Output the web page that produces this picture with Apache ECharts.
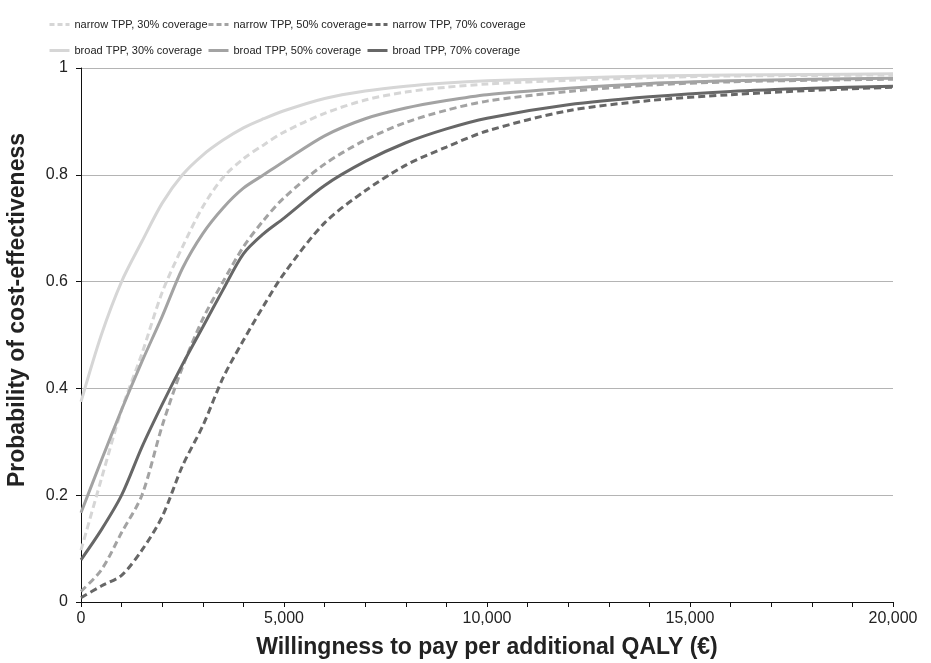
<!DOCTYPE html>
<html>
<head>
<meta charset="utf-8">
<script src="https://cdn.jsdelivr.net/npm/echarts@6/dist/echarts.min.js"></script>
<style>
  html, body { margin: 0; padding: 0; background: #fff; }
  #chart { width: 931px; height: 663px; }
</style>
</head>
<body>
<div id="chart"></div>
<script>
// willingness to pay (€) at which each curve was read
const wtp = [0, 500, 1000, 1500, 2000, 2500, 3000, 3500, 4000, 4500, 5000,
  6000, 7000, 8000, 9000, 10000, 12000, 14000, 16000, 18000, 20000]

const narrow30 = [0.097, 0.23, 0.36, 0.465, 0.58, 0.665, 0.74, 0.795, 0.83, 0.856, 0.88,
  0.915, 0.94, 0.955, 0.964, 0.97, 0.977, 0.982, 0.985, 0.986, 0.987]
const narrow50 = [0.02, 0.06, 0.13, 0.2, 0.33, 0.44, 0.53, 0.6, 0.665, 0.715, 0.757,
  0.82, 0.865, 0.898, 0.921, 0.938, 0.956, 0.968, 0.974, 0.977, 0.979]
const narrow70 = [0.008, 0.03, 0.05, 0.097, 0.16, 0.255, 0.33, 0.42, 0.49, 0.555, 0.615,
  0.71, 0.77, 0.818, 0.852, 0.882, 0.92, 0.939, 0.95, 0.958, 0.964]
const broad30 = [0.375, 0.5, 0.6, 0.675, 0.747, 0.8, 0.837, 0.865, 0.888, 0.905, 0.92,
  0.943, 0.957, 0.966, 0.972, 0.976, 0.981, 0.985, 0.987, 0.988, 0.989]
const broad50 = [0.167, 0.265, 0.36, 0.45, 0.535, 0.625, 0.69, 0.738, 0.775, 0.8, 0.825,
  0.873, 0.905, 0.925, 0.939, 0.95, 0.962, 0.971, 0.976, 0.979, 0.981]
const broad70 = [0.079, 0.135, 0.2, 0.29, 0.37, 0.445, 0.515, 0.585, 0.652, 0.69, 0.719,
  0.78, 0.825, 0.86, 0.886, 0.906, 0.931, 0.946, 0.956, 0.962, 0.966]

const seriesNames = [
  'narrow TPP, 30% coverage', 'narrow TPP, 50% coverage', 'narrow TPP, 70% coverage',
  'broad TPP, 30% coverage', 'broad TPP, 50% coverage', 'broad TPP, 70% coverage'
]
const yTicks = ['0', '0.2', '0.4', '0.6', '0.8', '1']

const font = 'Liberation Sans, Arial, Helvetica, sans-serif'
const light = '#d6d6d6'
const mid = '#a3a3a3'
const dark = '#676767'

function pairs(vals) {
  return wtp.map((x, i) => [x, vals[i]])
}

function makeSeries(name, vals, color, dashed) {
  return {
    name: name,
    type: 'line',
    data: pairs(vals),
    symbol: 'none',
    smooth: 0.3,
    lineStyle: {
      width: 3,
      color: color,
      type: dashed ? [7, 4] : 'solid'
    },
    itemStyle: { color: color }
  }
}

// one legend per entry so the three columns line up like the original
const legendPos = [
  { left: 43, top: 14 }, { left: 202, top: 14 }, { left: 361, top: 14 },
  { left: 43, top: 40 }, { left: 202, top: 40 }, { left: 361, top: 40 }
]
const legends = seriesNames.map((n, i) => ({
  data: [n],
  left: legendPos[i].left,
  top: legendPos[i].top,
  itemWidth: 20,
  itemHeight: 12,
  itemGap: 4,
  itemStyle: { opacity: 0 },
  lineStyle: i < 3 ? { width: 3, type: [5, 3] } : { width: 3 },
  textStyle: { fontFamily: font, fontSize: 11, color: '#222' }
}))

const chart = echarts.init(document.getElementById('chart'))
chart.setOption({
  backgroundColor: '#fff',
  animation: false,
  legend: legends,
  grid: { left: 81, right: 38, top: 68, bottom: 61, outerBoundsMode: 'none', containLabel: false },
  xAxis: {
    type: 'value',
    min: 0,
    max: 20000,
    interval: 1000,
    name: 'Willingness to pay per additional QALY (€)',
    nameLocation: 'middle',
    nameGap: 34,
    nameTextStyle: { fontFamily: font, fontSize: 23, fontWeight: 'bold', color: '#222' },
    axisLine: { lineStyle: { color: '#111', width: 1 } },
    axisTick: { show: true, length: 5, lineStyle: { color: '#111' } },
    axisLabel: {
      fontFamily: font,
      fontSize: 16,
      color: '#222',
      margin: 9,
      formatter: v => (v % 5000 === 0 ? v.toLocaleString('en-US') : '')
    },
    splitLine: { show: false }
  },
  yAxis: {
    type: 'value',
    min: 0,
    max: 1,
    interval: 0.2,
    name: 'Probability of cost-effectiveness',
    nameLocation: 'middle',
    nameGap: 52,
    nameTextStyle: {
      fontFamily: font, fontSize: 23, fontWeight: 'bold', color: '#222',
      padding: [0, 0, 0, 50]
    },
    axisLine: { show: true, lineStyle: { color: '#111', width: 1 } },
    axisTick: { show: true, length: 5, lineStyle: { color: '#111' } },
    axisLabel: {
      fontFamily: font,
      fontSize: 16,
      color: '#222',
      margin: 13,
      formatter: v => yTicks[Math.round(v / 0.2)]
    },
    splitLine: { show: true, lineStyle: { color: '#b4b4b4', width: 1 } }
  },
  series: [
    makeSeries(seriesNames[0], narrow30, light, true),
    makeSeries(seriesNames[1], narrow50, mid, true),
    makeSeries(seriesNames[2], narrow70, dark, true),
    makeSeries(seriesNames[3], broad30, light, false),
    makeSeries(seriesNames[4], broad50, mid, false),
    makeSeries(seriesNames[5], broad70, dark, false)
  ]
})
</script>
</body>
</html>
